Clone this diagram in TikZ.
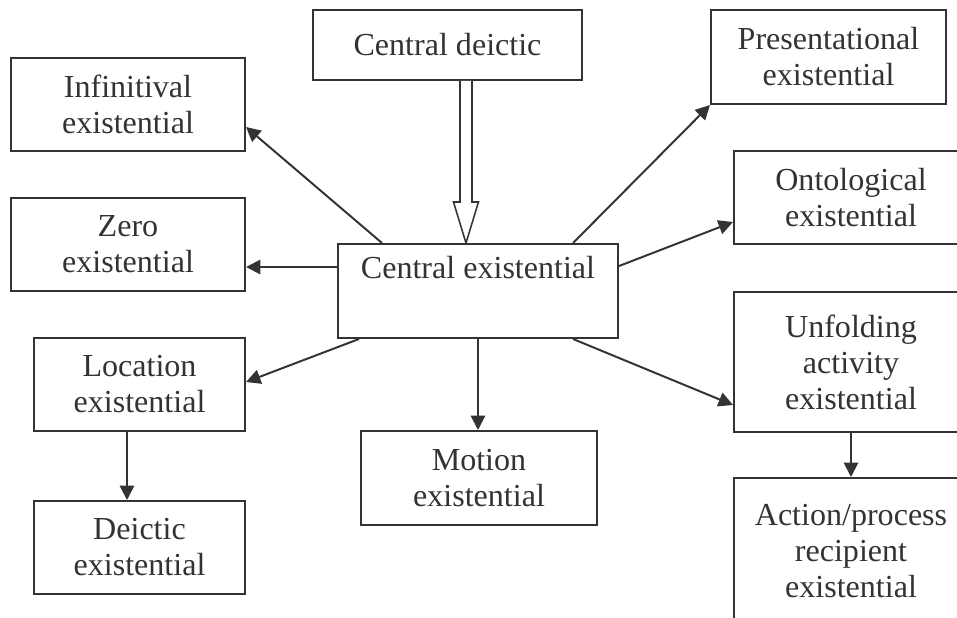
\documentclass[tikz,border=0pt]{standalone}
\usepackage{fontspec}
\setmainfont{Liberation Serif}
\usetikzlibrary{arrows.meta,calc}
\definecolor{ink}{HTML}{333333}

\begin{document}
\begin{tikzpicture}[x=0.025cm, y=-0.025cm, line width=1.4pt, color=ink,
    every node/.style={font=\fontsize{22.8}{25.6}\selectfont},
    box/.style={draw, align=center, inner sep=0pt},
    link/.style={-{Triangle[length=0.36cm, width=0.36cm]}},
    hollow/.style={fill=white, line width=1.1pt}]

  \useasboundingbox (0,0) rectangle (957,617);

  % ==================================================
  % Centre (the two central boxes)
  % ==================================================
  \node[box, minimum width=6.725cm, minimum height=1.75cm] (cd) at (447.5,45)
  {Central deictic};
  \node[box, minimum width=7.0cm, minimum height=2.35cm] (ce) at (478,291)
  {Central existential\\\strut};

  % ==================================================
  % Left column
  % ==================================================
  \node[box, minimum width=5.85cm, minimum height=2.325cm] (inf) at (128,104.5)
  {Infinitival\\existential};
  \node[box, minimum width=5.85cm, minimum height=2.325cm] (zero) at (128,244.5)
  {Zero\\existential};
  \node[box, minimum width=5.275cm, minimum height=2.325cm] (loc) at (139.5,384.5)
  {Location\\existential};
  \node[box, minimum width=5.275cm, minimum height=2.325cm] (dei) at (139.5,547.5)
  {Deictic\\existential};

  % -- below the centre
  \node[box, minimum width=5.9cm, minimum height=2.35cm] (mot) at (479,478)
  {Motion\\existential};

  % ==================================================
  % Right column (runs off the right edge)
  % ==================================================
  \node[box, minimum width=5.875cm, minimum height=2.35cm] (pres) at (828.5,57)
  {Presentational\\existential};
  \node[box, minimum width=5.85cm, minimum height=2.325cm] (onto) at (851,197.5)
  {Ontological\\existential};
  \node[box, minimum width=5.85cm, minimum height=3.5cm] (unf) at (851,362)
  {Unfolding\\activity\\existential};
  \node[box, minimum width=5.85cm, minimum height=3.65cm] (act) at (851,551)
  {Action/process\\recipient\\existential};

  % ==================================================
  % Arrows
  % ==================================================
  % -- hollow arrow from the deictic box
  \coordinate (dtip) at ($(ce.north west)+(129,0)$);
  \draw[hollow] ($(dtip |- cd.south)+(-6,0)$) -- ($(dtip)+(-6,-41)$)
  -- ($(dtip)+(-12.5,-41)$) -- (dtip) -- ($(dtip)+(12.5,-41)$)
  -- ($(dtip)+(6,-41)$) -- ($(dtip |- cd.south)+(6,0)$);

  % -- out of the central existential
  \draw[link] ($(ce.north west)+(45,0)$) -- ($(inf.north east)+(0,70)$);
  \draw[link] ($(ce.north west)+(0,24)$) -- ($(zero.north east)+(0,70)$);
  \draw[link] ($(ce.south west)+(22,0)$) -- ($(loc.north east)+(0,45)$);
  \draw[link] (ce.south) -- (ce.south |- mot.north);
  \draw[link] ($(ce.north east)+(-46,0)$) -- (pres.south west);
  \draw[link] ($(ce.north east)+(0,23)$) -- ($(onto.north west)+(0,72)$);
  \draw[link] ($(ce.south east)+(-46,0)$) -- ($(unf.north west)+(0,114)$);

  % -- down the columns
  \draw[link] ($(loc.south west)+(94,0)$) -- ($(dei.north west)+(94,0)$);
  \draw[link] ($(unf.south west)+(118,0)$) -- ($(act.north west)+(118,0)$);

\end{tikzpicture}
\end{document}
